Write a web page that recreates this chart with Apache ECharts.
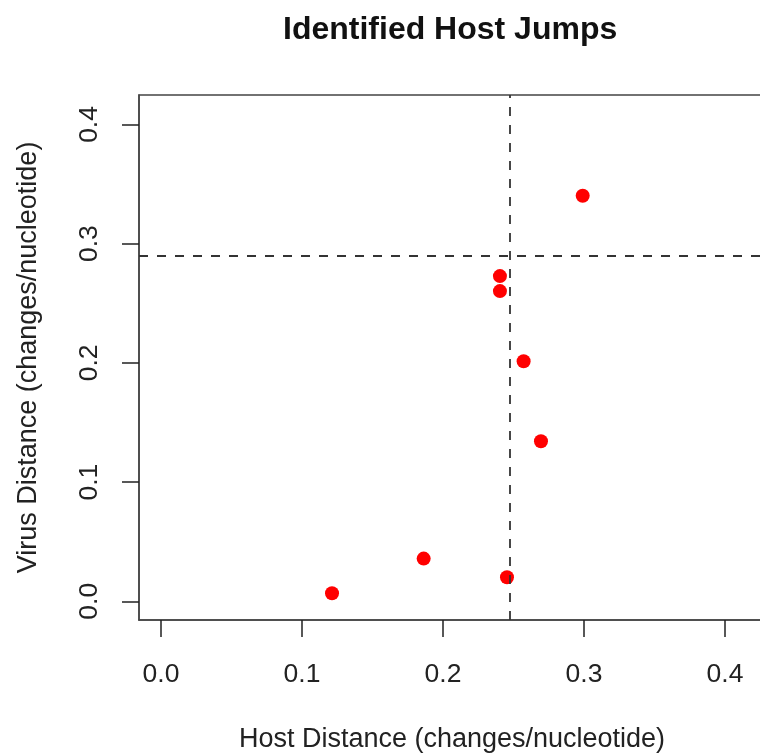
<!DOCTYPE html>
<html>
<head>
<meta charset="utf-8">
<title>Identified Host Jumps</title>
<script src="https://cdn.jsdelivr.net/npm/echarts@6/dist/echarts.min.js"></script>
<style>
  html, body { margin: 0; padding: 0; background: #fff; }
  #chart { width: 760px; height: 753px; }
</style>
</head>
<body>
<div id="chart"></div>
<script>
// host jumps: host distance vs virus distance
const hostDistance = [0.1213, 0.1863, 0.2454, 0.2695, 0.2572, 0.2404, 0.2404, 0.2991];
const virusDistance = [0.0067, 0.0358, 0.0201, 0.1342, 0.2013, 0.2602, 0.2728, 0.3402];
const tickValues = [0, 0.1, 0.2, 0.3, 0.4];
const hostCutoff = 0.2473;
const virusCutoff = 0.2896;

const font = '"Liberation Sans", Arial, sans-serif';
const textColor = '#222';

const chart = echarts.init(document.getElementById('chart'));

const points = hostDistance.map((x, i) => [x, virusDistance[i]]);

const axisCommon = {
  type: 'value',
  nameLocation: 'middle',
  nameTextStyle: { fontFamily: font, fontSize: 27, color: textColor },
  splitLine: { show: false },
  axisLine: { show: true, onZero: false, lineStyle: { color: '#444', width: 1.5 } },
  axisTick: {
    show: true,
    inside: false,
    customValues: tickValues,
    length: 17,
    lineStyle: { color: '#222', width: 1.5 }
  },
  axisLabel: {
    customValues: tickValues,
    fontFamily: font,
    fontSize: 26.5,
    color: textColor,
    formatter: (v) => v.toFixed(1)
  }
};

const option = {
  animation: false,
  backgroundColor: '#fff',
  title: {
    text: 'Identified Host Jumps',
    left: 283,
    top: 14,
    padding: 0,
    textStyle: { fontFamily: font, fontSize: 32, fontWeight: 'bold', color: '#111' }
  },
  grid: {
    left: 139,
    top: 95,
    right: -5,
    bottom: 133,
    show: true,
    borderColor: '#444',
    borderWidth: 1.5,
    outerBoundsMode: 'none'
  },
  xAxis: {
    ...axisCommon,
    name: 'Host Distance (changes/nucleotide)',
    nameGap: 106,
    min: -0.0156,
    max: 0.4284,
    axisLabel: { ...axisCommon.axisLabel, margin: 41 }
  },
  yAxis: {
    ...axisCommon,
    name: 'Virus Distance (changes/nucleotide)',
    nameGap: 97,
    min: -0.0157,
    max: 0.4247,
    axisLabel: { ...axisCommon.axisLabel, rotate: 90, margin: 36 }
  },
  series: [
    {
      type: 'scatter',
      data: points,
      symbolSize: 14,
      itemStyle: { color: '#ff0000', opacity: 1 },
      markLine: {
        silent: true,
        symbol: 'none',
        precision: 6,
        label: { show: false },
        lineStyle: { color: '#333', width: 1.8, type: [9, 9] },
        data: [
          { xAxis: hostCutoff },
          { yAxis: virusCutoff }
        ]
      }
    }
  ]
};

chart.setOption(option);
</script>
</body>
</html>
